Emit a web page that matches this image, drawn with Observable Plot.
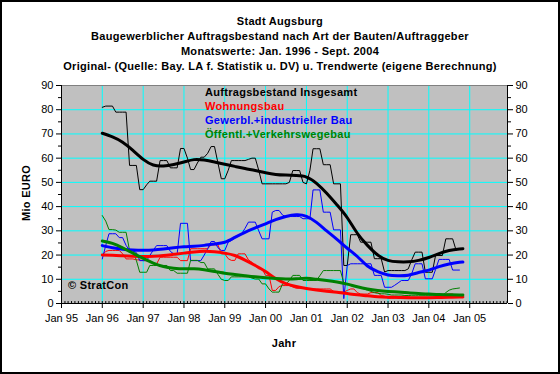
<!DOCTYPE html>
<html><head><meta charset="utf-8">
<script src="https://cdn.jsdelivr.net/npm/d3@7"></script>
<script src="https://cdn.jsdelivr.net/npm/@observablehq/plot@0.6"></script>
<style>
body{margin:0;background:#fff;}
#wrap{position:relative;width:560px;height:374px;overflow:hidden;background:#fff;font-family:"Liberation Sans",Arial,sans-serif;}
#wrap svg{position:absolute;left:0;top:0;}
#border{position:absolute;left:0;top:0;width:560px;height:374px;box-sizing:border-box;border:2px solid #000;pointer-events:none;}
.lbl{position:absolute;font-weight:bold;font-size:11px;line-height:13px;white-space:nowrap;color:#000;letter-spacing:0.3px;}
.title{left:0;width:560px;text-align:center;}
</style></head>
<body><div id="wrap"></div>
<script>
// ---- data ----
const titleLines = [
  "Stadt Augsburg",
  "Baugewerblicher Auftragsbestand nach Art der Bauten/Auftraggeber",
  "Monatswerte: Jan. 1996 - Sept. 2004",
  "Original- (Quelle: Bay. LA f. Statistik u. DV) u. Trendwerte (eigene Berechnung)"
];
const seriesNames = ["Auftragsbestand Insgesamt","Wohnungsbau","Gewerbl.+industrieller Bau","Öffentl.+Verkehrswegebau"];
const yAxisTitle = "Mio EURO";
const xAxisTitle = "Jahr";
const copyright = "© StratCon";
const yTicks = [0,10,20,30,40,50,60,70,80,90];
const tickYears = [1995,1996,1997,1998,1999,2000,2001,2002,2003,2004,2005];
// monthly raw values, month index 0 = Jan 1996
const totalRaw = [81,81.5,81.5,81.5,79,79,79,79,57,57, 57,47,47,49,50.5,50.5,50.5,59,59,59,
  56,56,56,64,64,60,55.3,55.3,58,60.4, 60.4,62,64.8,64.8,58,51.5,51.5,55,59,59,
  59,59,59,59.5,60,60,55,49.4,49.4,49.4, 49.4,49.4,49.4,49.4,49.4,50,54.9,54.9,54.9,50,
  49.4,55,63.9,63.9,63.9,57.3,57.3,57.3,49.4,49.4, 49.4,15.7,15.7,28.4,28.4,28.4,25.3,25.3,25.3,25.3,
  18.5,18.5,18.5,13,13.6,13.6,13.6,13.6,13.6,13.6, 14.3,18,21.2,21.2,21.2,12.9,12.9,12.9,19.8,19.8,
  19.8,26.7,26.7,26.7,22];
const wohnRaw = [20,21.5,21.9,21.9,21.9,21.9,20.5,18.4,18.4,18.4, 18,18,17.7,17.7,17.7,16.3,16.3,19.1,19.1,19.1,
  19.1,19.1,19.1,17.7,17.7,17.7,22.6,22.6,22.6,22.6, 22.6,22.6,24.2,24.2,24.2,20.5,20.5,18.5,17.8,17.8,
  20.5,20.5,20.5,18,17,15.5,14.3,14.3,11.6,11.6, 5.4,5.4,7,7.4,7.4,7.4,6.8,6.3,6.3,6.3,
  6.3,6,6,6,6,6,6,6,5,4.7, 4.7,4.7,5.4,6,6,4.5,3.9,3.9,3.9,4.5,
  4.5,4.5,3.3,3,2.2,2.2,2.2,2.5,3,3, 3,2.2,2.2,2.2,2.2,2.5,2.5,2.5,2.2,2.2,
  2.2,3.9,3.9,3.9,3.2,3.2];
const gewerbRaw = [18.4,24,28.8,28.8,28.8,27.2,27.2,24,21.9,21.9, 21,17.7,17.7,17.7,19.8,22,23.9,23.9,23.9,23.9,
  21.5,20.5,20.5,33.1,33.1,33.1,17.7,17.7,17.7,17.7, 20,22.6,25.6,25.6,23,21.9,21.9,25.3,26,27,
  28,28.8,31,33.6,33.6,33.6,30,26.7,26.7,26.7, 37.7,38.4,38.4,36.5,35.9,35.9,35.9,35.9,35.9,35,
  35,35,46.9,46.9,46.9,37.7,37.7,37.7,30.4,30.4, 30.4,2,15.7,16.4,16.4,16.4,16.4,16.4,16.4,16.4,
  11.6,11.6,11.6,6.7,6.7,6.7,7.5,8.5,9.5,9.5, 9.5,12.3,16.4,16.4,16.4,10.2,10.2,10.2,14,18.2,
  18.2,18.2,18.2,13.8,13.8,13.8];
const oeffRaw = [36.3,34,30.5,30.5,30.3,29.4,29.4,29.4,21.9,21.9, 17.8,12.9,12.9,12.9,15.7,15.7,15.7,15.7,15.7,15.7,
  13.6,13.6,12.5,12.5,12.5,12.5,17.8,17.8,17.8,16.9, 16.9,14.3,14.3,14.3,12,10,9.5,9.5,11,11,
  11,11,11,11,10.5,10.1,10.1,8.1,8.1,6, 4.7,4.7,4.7,8.1,8.1,9.5,11.6,11.6,11.6,9.5,
  9.5,9.5,9.5,9.5,11.5,13.6,13.6,13.6,13.6,13.6, 13.6,8.5,8.1,7.5,7,7,6.5,6,5.5,5,
  4.5,4.2,4,4,3.8,3.5,3.5,3.5,3.5,3.3, 3.3,3.2,3.2,3.2,3.2,3.2,3.2,3.2,3.2,3.2,
  3.2,4.5,5.5,6,6.2,6.4];
// trend values read at these month indexes
const trendMonths = [0,3,6,9,12,15,18,21,24,27,30,33,36,39,42,45,48,51,54,57,60,63,66,69,72,75,78,81,84,87,90,93,96,99,102,105,106];
const totalTrend = [70.3,68.8,66.6,63.2,59.5,57.2,56.8,57.4,58.4,59.4,59.2,58.4,57.5,56.6,55.7,54.9,54.0,53.3,53.0,52.8,52.2,49.6,45.5,40.7,35.4,29.0,24.0,20.0,17.8,17.2,17.2,17.8,19.0,20.6,21.9,22.5,22.6];
const wohnTrend = [20.0,19.9,19.7,19.5,19.4,19.5,19.8,20.3,20.8,21.3,21.6,21.4,20.8,19.8,17.9,15.7,13.2,10.3,8.2,7.0,6.2,5.6,5.1,4.6,4.1,3.6,3.2,2.8,2.6,2.5,2.4,2.4,2.4,2.5,2.6,2.7,2.7];
const gewerbTrend = [23.9,23.0,22.4,22.1,22.0,22.1,22.5,23.0,23.4,23.6,24.0,24.6,25.3,27.3,29.4,31.2,32.9,34.6,35.9,36.6,36.0,33.5,30.0,26.5,22.8,19.4,15.5,13.2,11.8,11.5,11.7,12.8,13.8,15.2,16.3,17.0,17.1];
const oeffTrend = [25.8,24.8,23.0,20.8,18.6,16.7,15.3,14.6,14.3,14.3,13.9,13.2,12.5,12.0,11.5,11.0,10.6,10.3,10.1,10.2,10.4,10.0,9.5,8.9,8.0,6.9,6.0,5.4,5.0,4.7,4.4,4.1,3.9,3.7,3.6,3.5,3.5];

// ---- styles ----
const colors = ["#000000","#ff0000","#0000ff","#008000"];

const toDate = m => new Date(Date.UTC(1996, m, 1));
const raws = [totalRaw, wohnRaw, gewerbRaw, oeffRaw];
const trends = [totalTrend, wohnTrend, gewerbTrend, oeffTrend];
const rawRows = [], trendRows = [];
raws.forEach((arr, s) => arr.forEach((v, i) => rawRows.push({date: toDate(i), value: v, s})));
trends.forEach((arr, s) => arr.forEach((v, i) => trendRows.push({date: toDate(trendMonths[i]), value: v, s})));

const xMin = new Date(Date.UTC(1995,0,1)), xMax = new Date(Date.UTC(2005,11,5));
const yearDates = tickYears.map(y => new Date(Date.UTC(y,0,1)));
const monthDates = d3.utcMonths(xMin, xMax);
const minorY = d3.range(5, 90, 10);
const noText = () => "";

const chart = Plot.plot({
  width: 560, height: 374,
  marginLeft: 61, marginRight: 53, marginTop: 85, marginBottom: 71,
  x: {type: "utc", domain: [xMin, xMax]},
  y: {domain: [0, 90]},
  style: {fontFamily: "'Liberation Sans', Arial, sans-serif", fontSize: "11px", background: "transparent", color: "#000"},
  marks: [
    Plot.frame({fill: "#c0c0c0", stroke: "none"}),
    Plot.gridX(yearDates.slice(1), {stroke: "#00ffff", strokeOpacity: 1}),
    Plot.gridY(d3.range(10, 90, 10), {stroke: "#00ffff", strokeOpacity: 1}),
    Plot.ruleY([90], {stroke: "#808080"}),
    Plot.ruleY([0], {stroke: "#000"}),
    Plot.ruleX([xMin], {stroke: "#000"}),
    Plot.ruleX([xMax], {stroke: "#000"}),
    Plot.ruleX(monthDates, {y1: 0, y2: 0.8, stroke: "#000"}),
    Plot.axisX(yearDates, {tickFormat: d3.utcFormat("%b %y"), tickSize: 5, tickPadding: 6, label: null}),
    Plot.axisY(yTicks, {anchor: "left", tickSize: 5, tickPadding: 3, label: null}),
    Plot.axisY(yTicks, {anchor: "right", tickSize: 5, tickPadding: 3, label: null}),
    Plot.axisY(minorY, {anchor: "left", tickSize: 3, tickFormat: noText, label: null}),
    Plot.axisY(minorY, {anchor: "right", tickSize: 3, tickFormat: noText, label: null}),
    Plot.line(rawRows, {x: "date", y: "value", z: "s", stroke: d => colors[d.s], strokeWidth: 1}),
    Plot.line(trendRows, {x: "date", y: "value", z: "s", stroke: d => colors[d.s], strokeWidth: 3, curve: "natural"})
  ]
});
const wrap = document.getElementById("wrap");
wrap.appendChild(chart);

function addLabel(text, css, cls) {
  const d = document.createElement("div");
  d.className = "lbl " + (cls || "");
  d.textContent = text;
  Object.assign(d.style, css);
  wrap.appendChild(d);
  return d;
}
const titleTops = [15, 30, 45, 60];
titleLines.forEach((t, i) => addLabel(t, {top: titleTops[i] + "px"}, "title"));
const legendTops = [86, 100, 114, 128];
seriesNames.forEach((t, i) => addLabel(t, {top: legendTops[i] + "px", left: "205px", color: colors[i]}));
addLabel(copyright, {top: "279px", left: "68px"});
addLabel(xAxisTitle, {top: "337px", left: "0px", width: "568px", textAlign: "center"});
addLabel(yAxisTitle, {top: "187px", left: "0px", width: "54px", textAlign: "center", transform: "rotate(-90deg)", transformOrigin: "27px 7px"});
const b = document.createElement("div"); b.id = "border"; wrap.appendChild(b);
</script></body></html>
